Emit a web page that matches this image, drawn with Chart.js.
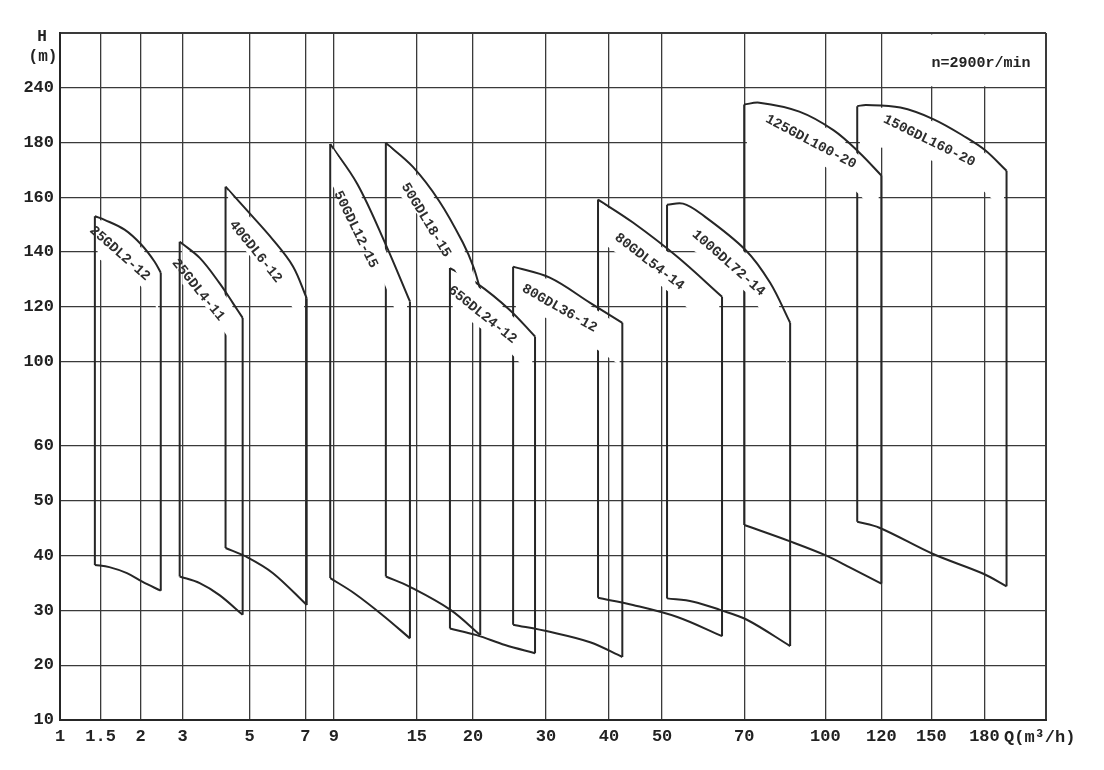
<!DOCTYPE html>
<html lang="zh-CN">
<head>
<meta charset="UTF-8">
<title>GDL 管道泵型谱图</title>
<script src="https://cdn.jsdelivr.net/npm/chart.js"></script>
<style>
  html, body { margin: 0; padding: 0; background: #fff; }
  .wrap { position: relative; width: 1104px; height: 770px; }
</style>
</head>
<body>
<div class="wrap"><canvas id="pumpChart"></canvas></div>
<script>
// 流量 Q (m3/h) 刻度
const qTicks = [1, 1.5, 2, 3, 5, 7, 9, 15, 20, 30, 40, 50, 70, 100, 120, 150, 180];
// 扬程 H (m) 刻度
const hTicks = [10, 20, 30, 40, 50, 60, 100, 120, 140, 160, 180, 240];

// 型号
const pumpNames = ['25GDL2-12', '25GDL4-11', '40GDL6-12', '50GDL12-15', '50GDL18-15', '65GDL24-12',
                   '80GDL36-12', '80GDL54-14', '100GDL72-14', '125GDL100-20', '150GDL160-20'];

// 上边线 (Q, H)
const topCurves = [
  [[1.43, 153.1], [1.55, 151.8], [1.8, 148.2], [2.02, 142.7], [2.33, 136.6], [2.48, 132.5]],
  [[2.93, 143.8], [3.51, 137.9], [4.1, 128.7], [4.5, 121.4], [4.79, 116.0]],
  [[4.28, 163.9], [4.9, 155.5], [5.84, 144.5], [6.56, 134.8], [7.1, 123.2]],
  [[8.75, 179.5], [10.7, 164.9], [12.7, 143.4], [14.5, 122.0]],
  [[12.76, 179.8], [14.7, 171.2], [17.0, 158.6], [19.1, 143.5], [20.1, 134.4], [21.0, 126.3]],
  [[17.95, 134.2], [20.5, 128.7], [25.0, 119.0], [28.5, 109.2]],
  [[25.5, 134.7], [30.6, 130.7], [37.0, 121.5], [42.5, 114.2]],
  [[38.25, 159.2], [44.5, 150.8], [53.7, 138.3], [64.6, 123.7]],
  [[51.2, 157.3], [55.1, 157.7], [59.3, 154.2], [70.4, 140.9], [79.6, 128.8], [87.0, 114.2]],
  [[70, 221.6], [75.6, 223.7], [90.4, 213.9], [102.9, 193.6], [112.1, 176.4], [120, 168.0]],
  [[111.4, 219.9], [114.6, 221.2], [131.4, 218.3], [151, 205.7], [169.8, 185.4], [180.6, 177.1], [192.5, 169.7]]
];

// 下边线 (Q, H)
const bottomCurves = [
  [[1.43, 38.3], [1.61, 37.9], [1.83, 36.8], [2.05, 35.2], [2.48, 33.6]],
  [[2.93, 36.2], [3.51, 35.0], [4.1, 32.8], [4.79, 29.2]],
  [[4.28, 41.4], [4.9, 39.8], [5.84, 36.8], [7.1, 31.0]],
  [[8.75, 35.9], [10.5, 33.1], [12.6, 29.0], [14.5, 24.9]],
  [[12.76, 36.2], [14.5, 34.3], [18.0, 30.1], [21.0, 25.5]],
  [[17.95, 26.7], [20.5, 25.5], [24.4, 23.7], [28.5, 22.2]],
  [[25.5, 27.4], [30.6, 26.1], [37.0, 24.2], [42.5, 21.5]],
  [[38.25, 32.3], [44.5, 31.0], [53.7, 28.8], [64.6, 25.3]],
  [[51.2, 32.2], [57.6, 31.6], [64.1, 30.1], [71.0, 28.3], [87.0, 23.5]],
  [[70, 45.6], [87, 42.6], [100.4, 40.0], [108.9, 37.8], [120, 34.9]],
  [[111.4, 46.2], [119.3, 45.1], [151, 40.3], [179.4, 36.7], [192.5, 34.4]]
];

// 坐标纸的格子不是等距的: 每条刻度线在轴上的位置
const qGrid = [0, 40.5, 80.5, 122.5, 189.5, 245, 273.5, 356.5, 412.5, 485.5, 548.5, 601.5, 683.5, 764.5, 820.5, 870.5, 923.5];
const qGridEnd = 985;
const hGrid = [0, 1, 2, 3, 4, 5, 6.54, 7.54, 8.54, 9.54, 10.54, 11.54];
const hGridEnd = 12.54;

// 把实际值换算到格子位置 (分段线性)
function warp(v, vals, grid) {
  let i = 0;
  while (i < vals.length - 2 && v > vals[i + 1]) i++;
  const t = (v - vals[i]) / (vals[i + 1] - vals[i]);
  return grid[i] + t * (grid[i + 1] - grid[i]);
}
const toPt = ([q, h]) => ({ x: warp(q, qTicks, qGrid), y: warp(h, hTicks, hGrid) });

const INK = '#262626';
const Y_UNIT = 54.75;   // 约每格像素, 只用来算白底的厚度
const datasets = [];
pumpNames.forEach((name, i) => {
  const top = topCurves[i].map(toPt);
  const bot = bottomCurves[i].map(toPt);
  const n = top.length;
  const curve = { borderColor: INK, borderWidth: 2, pointRadius: 0, fill: false, order: 1, tension: 0.35 };
  datasets.push(Object.assign({ label: name, kind: 'top', data: top }, curve));
  datasets.push(Object.assign({ label: name, kind: 'bottom', data: bot }, curve));
  datasets.push({ label: name, kind: 'side', data: [bot[0], top[0], { x: top[0].x, y: null }, top[n - 1], bot[bot.length - 1]],
                  borderColor: INK, borderWidth: 2, pointRadius: 0, fill: false, order: 1, tension: 0 });
  // 型号文字下面的白底 (盖住格线), 陡的地方离线远一点, 不压住边线
  const bandTop = top.map((p, k) => {
    const a = top[Math.max(k - 1, 0)], b = top[Math.min(k + 1, n - 1)];
    const s = (b.y - a.y) * Y_UNIT / (b.x - a.x);
    const gap = 2.4 * Math.sqrt(1 + s * s) / Y_UNIT;
    return { x: p.x + (k === 0 ? 2.5 : k === n - 1 ? -2.5 : 0), y: p.y - gap };
  });
  const bandBot = top.map((p, k) => ({ x: bandTop[k].x, y: p.y - 0.77 }));
  datasets.push({ label: name, kind: 'band', data: bandTop, fill: '+1', backgroundColor: '#ffffff',
                  borderColor: 'rgba(0,0,0,0)', borderWidth: 0, pointRadius: 0, order: 0, tension: 0.35 });
  datasets.push({ label: name, kind: 'band', data: bandBot, fill: false,
                  borderColor: 'rgba(0,0,0,0)', borderWidth: 0, pointRadius: 0, order: 0, tension: 0.35 });
});

const TICK_FONT = { family: '"Liberation Mono", monospace', size: 17, weight: 'bold' };

const paperMarks = {
  id: 'paperMarks',
  beforeDatasetsDraw(chart) {
    // 右上角转速格子里没有竖线
    const { ctx, chartArea, scales } = chart;
    const x0 = scales.x.getPixelForValue(warp(120, qTicks, qGrid));
    const y0 = scales.y.getPixelForValue(hGrid[hGrid.length - 1]);
    ctx.save();
    ctx.fillStyle = '#fff';
    ctx.fillRect(x0 + 1.5, chartArea.top + 1.5, chartArea.right - x0 - 3, y0 - chartArea.top - 3);
    ctx.restore();
  },
  afterDatasetsDraw(chart) {
    const ctx = chart.ctx;
    ctx.save();
    ctx.fillStyle = '#2e2e2e';
    ctx.font = 'bold 14px "Liberation Mono", monospace';
    ctx.textAlign = 'center';
    ctx.textBaseline = 'middle';
    chart.data.datasets.forEach((ds, i) => {
      if (ds.kind !== 'top') return;
      const pts = chart.getDatasetMeta(i).data;
      const seg = [];
      let total = 0;
      for (let k = 1; k < pts.length; k++) {
        const d = Math.hypot(pts[k].x - pts[k - 1].x, pts[k].y - pts[k - 1].y);
        seg.push(d);
        total += d;
      }
      let rest = total * 0.5, k = 0;
      while (k < seg.length - 1 && rest > seg[k]) { rest -= seg[k]; k++; }
      const a = pts[k], b = pts[k + 1];
      const t = rest / seg[k];
      const mx = a.x + (b.x - a.x) * t, my = a.y + (b.y - a.y) * t;
      const chord = Math.atan2(pts[pts.length - 1].y - pts[0].y, pts[pts.length - 1].x - pts[0].x);
      const local = Math.atan2(b.y - a.y, b.x - a.x);
      const ang = (chord + local) / 2;
      const off = 21;
      ctx.save();
      ctx.translate(mx - Math.sin(ang) * off, my + Math.cos(ang) * off);
      ctx.rotate(ang);
      ctx.fillText(ds.label, 0, 0);
      ctx.restore();
    });
    ctx.restore();
  },
  afterDraw(chart) {
    const { ctx, chartArea, scales } = chart;
    ctx.save();
    ctx.fillStyle = '#222';
    ctx.font = 'bold 16px "Liberation Mono", monospace';
    ctx.textBaseline = 'middle';
    ctx.textAlign = 'center';
    ctx.fillText('H', chartArea.left - 18, chartArea.top + 4);
    ctx.fillText('(m)', chartArea.left - 17, chartArea.top + 24);
    ctx.textAlign = 'left';
    ctx.font = 'bold 17px "Liberation Mono", monospace';
    ctx.fillText('Q(m³/h)', chartArea.right - 42, chartArea.bottom + 18);
    ctx.font = 'bold 15px "Liberation Mono", monospace';
    ctx.textAlign = 'center';
    const y0 = scales.y.getPixelForValue(hGrid[hGrid.length - 1]);
    ctx.fillText('n=2900r/min', chartArea.right - 65, (chartArea.top + y0) / 2 + 3);
    ctx.restore();
  }
};

const gridWidth = (ctx) => (ctx.index === 0 || ctx.tick.value === qGridEnd || ctx.tick.value === hGridEnd) ? 2 : 1.3;

new Chart(document.getElementById('pumpChart'), {
  type: 'line',
  data: { datasets },
  plugins: [paperMarks],
  options: {
    responsive: true,
    maintainAspectRatio: false,
    animation: false,
    layout: { padding: { top: 33, right: 58, left: 0, bottom: 0 } },
    plugins: { legend: { display: false }, tooltip: { enabled: false }, title: { display: false } },
    scales: {
      x: {
        type: 'linear',
        min: 0,
        max: qGridEnd,
        afterBuildTicks: (axis) => { axis.ticks = qGrid.concat([qGridEnd]).map(v => ({ value: v })); },
        afterFit: (axis) => { axis.height = 50; },
        grid: { color: '#3a3a3a', lineWidth: gridWidth, drawTicks: false },
        border: { display: true, color: '#262626', width: 2 },
        ticks: {
          autoSkip: false, maxRotation: 0, padding: 7, color: '#222', font: TICK_FONT,
          callback: (v, idx) => idx < qTicks.length ? String(qTicks[idx]) : ''
        }
      },
      y: {
        type: 'linear',
        min: 0,
        max: hGridEnd,
        afterBuildTicks: (axis) => { axis.ticks = hGrid.concat([hGridEnd]).map(v => ({ value: v })); },
        afterFit: (axis) => { axis.width = 60; },
        grid: { color: '#3a3a3a', lineWidth: gridWidth, drawTicks: false },
        border: { display: true, color: '#262626', width: 2 },
        ticks: {
          autoSkip: false, padding: 6, color: '#222', font: TICK_FONT,
          callback: (v, idx) => idx < hTicks.length ? String(hTicks[idx]) : ''
        }
      }
    }
  }
});
</script>
</body>
</html>
